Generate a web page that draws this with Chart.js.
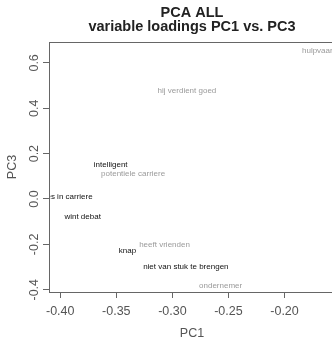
<!DOCTYPE html>
<html>
<head>
<meta charset="utf-8">
<script src="https://cdn.jsdelivr.net/npm/chart.js@4/dist/chart.umd.min.js"></script>
<style>
html,body{margin:0;padding:0;background:#fff;overflow:hidden;}
#wrap{width:345px;height:341px;}
canvas{display:block;}
</style>
</head>
<body>
<div id="wrap"><canvas id="c" width="345" height="341"></canvas></div>
<script>
// ---- data ----
const titleLines = ["PCA ALL", "variable loadings PC1 vs. PC3"];
const xTitle = "PC1";
const yTitle = "PC3";
const varNames = ["hulpvaardig", "hij verdient goed", "intelligent", "potentiele carriere",
  "succes in carriere", "wint debat", "heeft vrienden", "knap",
  "niet van stuk te brengen", "ondernemer"];
const pc1 = [-0.166, -0.287, -0.355, -0.335, -0.399, -0.380, -0.307, -0.340, -0.288, -0.257];
const pc3 = [0.654, 0.478, 0.152, 0.112, 0.008, -0.078, -0.200, -0.230, -0.299, -0.381];
const highlighted = [false, false, true, false, true, true, false, true, true, false];
const xTickValues = [-0.40, -0.35, -0.30, -0.25, -0.20];
const xTickLabels = ["-0.40", "-0.35", "-0.30", "-0.25", "-0.20"];
const yTickValues = [-0.4, -0.2, 0.0, 0.2, 0.4, 0.6];
const yTickLabels = ["-0.4", "-0.2", "0.0", "0.2", "0.4", "0.6"];
const xRange = [-0.41, -0.155];
const yRange = [-0.41, 0.692];

const FONT = "'Liberation Sans', Arial, sans-serif";

const labelPlugin = {
  id: 'pcaLabels',
  afterDatasetsDraw(chart) {
    const ctx = chart.ctx, ca = chart.chartArea;
    const xs = chart.scales.x, ys = chart.scales.y;
    ctx.save();
    ctx.beginPath();
    ctx.rect(ca.left, ca.top, ca.right - ca.left, ca.bottom - ca.top);
    ctx.clip();
    ctx.textAlign = 'center';
    ctx.textBaseline = 'middle';
    ctx.font = "8px " + FONT;
    varNames.forEach((n, i) => {
      ctx.fillStyle = highlighted[i] ? '#111' : '#9a9a9a';
      ctx.fillText(n, xs.getPixelForValue(pc1[i]), ys.getPixelForValue(pc3[i]));
    });
    ctx.restore();
  },
  afterDraw(chart) {
    const ctx = chart.ctx, ca = chart.chartArea;
    const ys = chart.scales.y;
    ctx.save();
    ctx.strokeStyle = '#666';
    ctx.lineWidth = 1;
    ctx.strokeRect(Math.round(ca.left) + 0.5, Math.round(ca.top) + 0.5,
      Math.round(ca.right - ca.left), Math.round(ca.bottom - ca.top));
    // y tick labels, rotated like R's default
    ctx.font = "12.5px " + FONT;
    ctx.fillStyle = '#555';
    ctx.textAlign = 'center';
    ctx.textBaseline = 'middle';
    ys.ticks.forEach((t) => {
      const y = ys.getPixelForValue(t.value);
      ctx.save();
      ctx.translate(34.5, y);
      ctx.rotate(-Math.PI / 2);
      ctx.fillText(yTickLabels[yTickValues.indexOf(t.value)], 0, 0);
      ctx.restore();
    });
    ctx.restore();
  }
};

new Chart(document.getElementById('c'), {
  type: 'scatter',
  data: {
    datasets: [{
      data: pc1.map((x, i) => ({x: x, y: pc3[i]})),
      pointRadius: 0,
      pointHoverRadius: 0,
      showLine: false
    }]
  },
  options: {
    responsive: false,
    animation: false,
    events: [],
    layout: { padding: { left: 0, right: 10, top: 0, bottom: 0 } },
    plugins: {
      legend: { display: false },
      tooltip: { enabled: false },
      title: {
        display: true,
        text: titleLines,
        fullSize: false,
        color: '#222',
        font: { family: FONT, size: 14.5, weight: 'bold', lineHeight: 14 / 14.5 },
        padding: { top: 6, bottom: 8 }
      }
    },
    scales: {
      x: {
        type: 'linear',
        min: xRange[0], max: xRange[1],
        afterBuildTicks: s => { s.ticks = xTickValues.map(v => ({value: v})); },
        afterFit: s => { s.height = 49; },
        border: { display: false },
        grid: { display: true, drawOnChartArea: false, drawTicks: true, tickLength: 6, color: '#666', tickColor: '#666' },
        ticks: {
          color: '#555', padding: 6, maxRotation: 0, autoSkip: false,
          font: { family: FONT, size: 12.5 },
          callback: (v) => xTickLabels[xTickValues.indexOf(v)]
        },
        title: { display: true, text: xTitle, color: '#555', font: { family: FONT, size: 12.5 }, padding: { top: 0, bottom: 0 } }
      },
      y: {
        type: 'linear',
        min: yRange[0], max: yRange[1],
        afterBuildTicks: s => { s.ticks = yTickValues.map(v => ({value: v})); },
        afterFit: s => { s.width = 49; },
        border: { display: false },
        grid: { display: true, drawOnChartArea: false, drawTicks: true, tickLength: 6, color: '#666', tickColor: '#666' },
        ticks: { display: false },
        title: { display: true, text: yTitle, color: '#555', font: { family: FONT, size: 12.5 }, padding: { top: 5, bottom: 0 } }
      }
    }
  },
  plugins: [labelPlugin]
});
</script>
</body>
</html>
